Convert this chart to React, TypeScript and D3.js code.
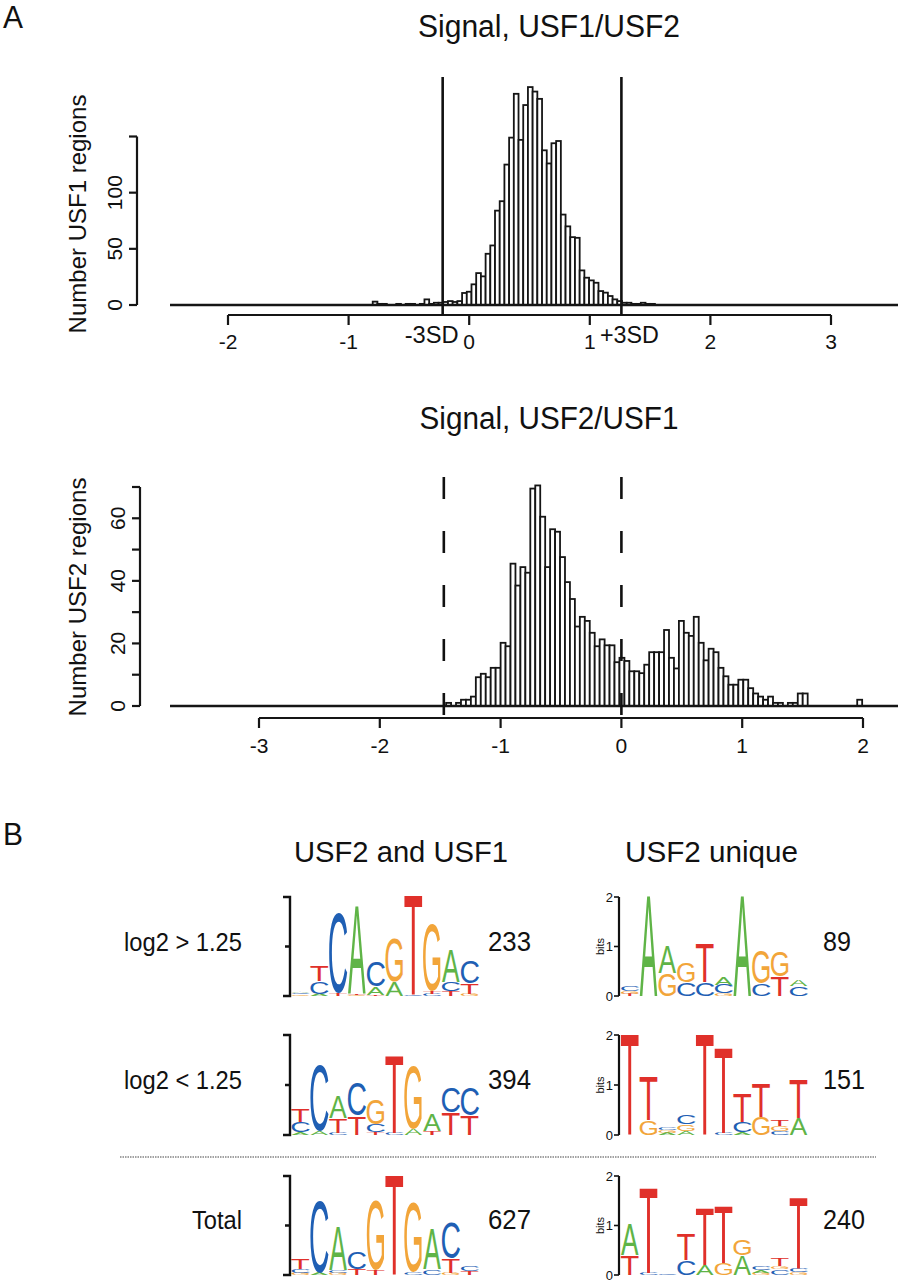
import React, { useEffect, useRef } from 'react';
import * as d3 from 'd3';

// Histogram of USF1/USF2 signal ratios
const usf1BinStart = -0.839;
const usf1BinWidth = 0.039;
const usf1Counts = [
  0, 3, 1, 1, 0, 0, 1, 0, 1, 1, 0, 1, 5, 1, 2, 2,
  2.7, 3.5, 2.7, 3.5, 10.7, 11.8,
  18.4, 28.4, 25.5, 45.6, 53, 84, 92.4, 125, 149,
  188, 147, 178, 194, 190, 183.5,
  137.7, 126, 144, 146, 80.5, 70, 60.4, 59.8, 30.8, 24.3, 21.9, 19.8, 12.4, 11, 8, 5,
  3.5,
  2, 2, 1, 1, 2, 1, 1,
];
const usf1XTicks = [-2, -1, 0, 1, 2, 3];
const usf1YTicks = [0, 50, 100, 150];
const usf1YLabels = [0, 50, 100];
const usf1Cutoffs = [-0.22, 1.262];
const usf1CutoffLabels = ['-3SD', '+3SD'];

// Histogram of USF2/USF1 signal ratios
const usf2BinStart = -1.451;
const usf2BinWidth = 0.041;
const usf2Counts = [
  1, 0, 1, 2, 2, 3,
  9.2, 10.3, 9.2, 12.2, 12.2, 20.2, 19.1, 45.5, 38.5, 44.4, 42.6, 69.5, 70.5, 60.5,
  44.4, 56.5, 55.7, 47.6, 39.6, 34.2, 25.4, 28.5, 27.2, 23.4, 19.1, 21.3, 19.4, 19.4,
  14, 15.4, 14.4, 11.1, 11.1, 10.5, 13.2, 17.2, 17.2, 17.2, 24.3, 15.4, 12, 27.2, 23.4,
  22.4, 28.5, 20.2, 14.6, 18.3, 17.2, 12.2, 9.5, 6.8, 6.8, 8.4, 8.4, 5.7,
  4, 3, 2, 3, 1, 1, 0, 1, 1, 4, 4, 0, 0, 0, 0, 0, 0, 0, 0, 0, 0, 2,
];
const usf2XTicks = [-3, -2, -1, 0, 1, 2];
const usf2YTicks = [0, 10, 20, 30, 40, 50, 60, 70];
const usf2YLabels = [0, 20, 40, 60];
const usf2Cutoffs = [-1.47, 0];

// Motif logos: each column lists [base, bits] from bottom to top
type Column = [string, number][];

const rowLabels = ['log2 > 1.25', 'log2 < 1.25', 'Total'];
const sharedSites = [233, 394, 627];
const uniqueSites = [89, 151, 240];

const sharedHigh: Column[] = [
  [['G', 0.03], ['C', 0.03], ['A', 0.03]],
  [['A', 0.04], ['C', 0.26], ['T', 0.33]],
  [['T', 0.06], ['C', 1.7]],
  [['G', 0.03], ['T', 0.03], ['A', 1.82]],
  [['T', 0.03], ['A', 0.17], ['C', 0.53]],
  [['A', 0.28], ['G', 0.9]],
  [['C', 0.02], ['T', 2.06]],
  [['C', 0.05], ['T', 0.04], ['G', 1.4]],
  [['T', 0.1], ['C', 0.18], ['A', 0.67]],
  [['G', 0.04], ['T', 0.22], ['C', 0.47]],
];
const sharedLow: Column[] = [
  [['A', 0.05], ['C', 0.22], ['T', 0.25]],
  [['A', 0.08], ['C', 1.37]],
  [['C', 0.05], ['T', 0.3], ['A', 0.45]],
  [['T', 0.38], ['C', 0.69]],
  [['T', 0.05], ['C', 0.17], ['G', 0.51]],
  [['C', 0.05], ['T', 1.6]],
  [['A', 0.12], ['G', 1.33]],
  [['T', 0.08], ['A', 0.35]],
  [['T', 0.45], ['C', 0.52]],
  [['T', 0.4], ['C', 0.57]],
];
const sharedAll: Column[] = [
  [['G', 0.04], ['C', 0.08], ['T', 0.2]],
  [['A', 0.04], ['C', 1.52]],
  [['G', 0.04], ['C', 0.06], ['A', 0.9]],
  [['T', 0.12], ['C', 0.35]],
  [['T', 0.1], ['G', 1.46]],
  [['T', 2.08]],
  [['C', 0.06], ['G', 1.46]],
  [['C', 0.12], ['A', 0.83]],
  [['G', 0.04], ['T', 0.3], ['C', 0.74]],
  [['T', 0.08], ['C', 0.12]],
];
const uniqueHigh: Column[] = [
  [['T', 0.04], ['G', 0.06], ['C', 0.12]],
  [['A', 2.08]],
  [['G', 0.47], ['A', 0.55]],
  [['C', 0.28], ['G', 0.41]],
  [['C', 0.28], ['T', 0.79]],
  [['G', 0.05], ['C', 0.18], ['A', 0.16]],
  [['A', 2.08]],
  [['C', 0.25], ['G', 0.68]],
  [['T', 0.4], ['G', 0.53]],
  [['C', 0.2], ['A', 0.12]],
];
const uniqueLow: Column[] = [
  [['T', 2.08]],
  [['G', 0.3], ['T', 0.9]],
  [['A', 0.04], ['G', 0.05], ['C', 0.04]],
  [['A', 0.07], ['G', 0.14], ['C', 0.18]],
  [['T', 2.08]],
  [['C', 0.04], ['T', 1.74]],
  [['A', 0.05], ['C', 0.22], ['T', 0.57]],
  [['G', 0.37], ['T', 0.7]],
  [['C', 0.08], ['G', 0.1], ['T', 0.12]],
  [['A', 0.35], ['T', 0.79]],
];
const uniqueAll: Column[] = [
  [['T', 0.4], ['A', 0.64]],
  [['C', 0.05], ['T', 1.77]],
  [['C', 0.02]],
  [['C', 0.3], ['T', 0.53]],
  [['A', 0.2], ['T', 1.18]],
  [['G', 0.25], ['T', 1.17]],
  [['A', 0.4], ['G', 0.33]],
  [['G', 0.04], ['A', 0.05], ['C', 0.08]],
  [['C', 0.12], ['G', 0.06], ['T', 0.17]],
  [['G', 0.05], ['C', 0.07], ['T', 1.48]],
];

const baseColor: Record<string, string> = {
  A: '#5fb447',
  C: '#1f5fb4',
  G: '#f2a53a',
  T: '#e0302a',
};

// ink bounds of each glyph in em units: [xMin, xMax, yMin, yMax]
const glyphBox: Record<string, number[]> = {
  A: [0, 0.668, 0, 0.716],
  C: [0.049, 0.669, -0.012, 0.728],
  G: [0.053, 0.722, -0.012, 0.728],
  T: [0.024, 0.588, 0, 0.716],
};

const font = "'Liberation Sans', Arial, Helvetica, sans-serif";

const App = () => {
  const ref = useRef<SVGSVGElement>(null);

  useEffect(() => {
    document.body.style.margin = '0';
    const svg = d3.select(ref.current);
    svg.selectAll('*').remove();

    const label = (x: number, y: number, text: string, size: number, anchor = 'start', length?: number) => {
      const t = svg
        .append('text')
        .attr('x', x)
        .attr('y', y)
        .attr('font-family', font)
        .attr('font-size', size)
        .attr('text-anchor', anchor)
        .attr('fill', '#111')
        .text(text);
      if (length) t.attr('textLength', length).attr('lengthAdjust', 'spacingAndGlyphs');
      return t;
    };

    const rotated = (x: number, y: number, text: string, size: number) =>
      svg
        .append('text')
        .attr('transform', `translate(${x},${y}) rotate(-90)`)
        .attr('font-family', font)
        .attr('font-size', size)
        .attr('text-anchor', 'middle')
        .attr('fill', '#111')
        .text(text);

    // draws one histogram panel
    const histogram = (o: {
      counts: number[];
      start: number;
      width: number;
      xDomain: [number, number];
      xRange: [number, number];
      yDomain: [number, number];
      yRange: [number, number];
      xTicks: number[];
      yTicks: number[];
      yLabels: number[];
      axisX: number;
      axisY: number;
      xLabelY: number;
      title: string;
      titleY: number;
      titleLen: number;
      yTitle: string;
      yTitleCenter: number;
      cutoffs: number[];
      cutoffTop: number;
      dashed: boolean;
    }) => {
      const x = d3.scaleLinear().domain(o.xDomain).range(o.xRange);
      const y = d3.scaleLinear().domain(o.yDomain).range(o.yRange);
      const g = svg.append('g');

      label(549, o.titleY, o.title, 31, 'middle', o.titleLen);

      g.selectAll('rect.bar')
        .data(o.counts.map((c, i) => ({ x0: o.start + i * o.width, c })).filter((d) => d.c > 0))
        .join('rect')
        .attr('class', 'bar')
        .attr('x', (d) => x(d.x0))
        .attr('width', x(o.width) - x(0))
        .attr('y', (d) => y(d.c))
        .attr('height', (d) => y(0) - y(d.c))
        .attr('fill', '#fff')
        .attr('stroke', '#151515')
        .attr('stroke-width', 1.8);

      // zero line across the plot region
      g.append('line')
        .attr('x1', 170)
        .attr('x2', 898)
        .attr('y1', y(0))
        .attr('y2', y(0))
        .attr('stroke', '#151515')
        .attr('stroke-width', 2.4);

      // x axis
      g.append('line')
        .attr('x1', x(o.xTicks[0]))
        .attr('x2', x(o.xTicks[o.xTicks.length - 1]))
        .attr('y1', o.axisY)
        .attr('y2', o.axisY)
        .attr('stroke', '#151515')
        .attr('stroke-width', 2.2);
      o.xTicks.forEach((t) => {
        g.append('line')
          .attr('x1', x(t))
          .attr('x2', x(t))
          .attr('y1', o.axisY)
          .attr('y2', o.axisY + 10)
          .attr('stroke', '#151515')
          .attr('stroke-width', 2.2);
        label(x(t), o.xLabelY, String(t), 21, 'middle');
      });

      // y axis
      g.append('line')
        .attr('x1', o.axisX)
        .attr('x2', o.axisX)
        .attr('y1', y(o.yTicks[0]))
        .attr('y2', y(o.yTicks[o.yTicks.length - 1]))
        .attr('stroke', '#151515')
        .attr('stroke-width', 2.2);
      o.yTicks.forEach((t) => {
        g.append('line')
          .attr('x1', o.axisX - 8)
          .attr('x2', o.axisX)
          .attr('y1', y(t))
          .attr('y2', y(t))
          .attr('stroke', '#151515')
          .attr('stroke-width', 2.2);
      });
      o.yLabels.forEach((t) => rotated(o.axisX - 15, y(t), String(t), 21));
      rotated(86, o.yTitleCenter, o.yTitle, 24);

      o.cutoffs.forEach((c) => {
        g.append('line')
          .attr('x1', x(c))
          .attr('x2', x(c))
          .attr('y1', o.cutoffTop)
          .attr('y2', o.axisY)
          .attr('stroke', '#111')
          .attr('stroke-width', 2.6)
          .attr('stroke-dasharray', o.dashed ? '22 32' : null);
      });
      return x;
    };

    const xTop = histogram({
      counts: usf1Counts,
      start: usf1BinStart,
      width: usf1BinWidth,
      xDomain: [-2, 3],
      xRange: [228, 831],
      yDomain: [0, 150],
      yRange: [305, 136.5],
      xTicks: usf1XTicks,
      yTicks: usf1YTicks,
      yLabels: usf1YLabels,
      axisX: 137,
      axisY: 315,
      xLabelY: 349,
      title: 'Signal, USF1/USF2',
      titleY: 37,
      titleLen: 262,
      yTitle: 'Number USF1 regions',
      yTitleCenter: 214,
      cutoffs: usf1Cutoffs,
      cutoffTop: 77,
      dashed: false,
    });
    usf1Cutoffs.forEach((c, i) => {
      label(xTop(c) + (i === 0 ? -11 : 8), 343, usf1CutoffLabels[i], 24, 'middle', i === 0 ? 54 : 59);
    });

    histogram({
      counts: usf2Counts,
      start: usf2BinStart,
      width: usf2BinWidth,
      xDomain: [-3, 2],
      xRange: [259, 863],
      yDomain: [0, 70],
      yRange: [706, 487],
      xTicks: usf2XTicks,
      yTicks: usf2YTicks,
      yLabels: usf2YLabels,
      axisX: 140,
      axisY: 718,
      xLabelY: 753,
      title: 'Signal, USF2/USF1',
      titleY: 429,
      titleLen: 259,
      yTitle: 'Number USF2 regions',
      yTitleCenter: 597,
      cutoffs: usf2Cutoffs,
      cutoffTop: 477,
      dashed: true,
    });

    // panel letters
    label(3, 28, 'A', 31, 'start', 20);
    label(3, 845, 'B', 31, 'start', 20);

    // motif panel
    label(294, 862, 'USF2 and USF1', 30, 'start', 214);
    label(625, 862, 'USF2 unique', 30, 'start', 173);

    const rows = [
      { zero: 996, two: 897, labelY: 951 },
      { zero: 1135, two: 1035, labelY: 1089 },
      { zero: 1275, two: 1176, labelY: 1229 },
    ];
    const shared = [sharedHigh, sharedLow, sharedAll];
    const unique = [uniqueHigh, uniqueLow, uniqueAll];

    const logo = (cols: Column[], x0: number, colW: number, zero: number, two: number) => {
      const y = d3.scaleLinear().domain([0, 2]).range([zero, two]);
      const g = svg.append('g');
      cols.forEach((col, i) => {
        let acc = 0;
        col.forEach(([base, bits]) => {
          const bottom = y(acc);
          const top = y(acc + bits);
          acc += bits;
          const h = bottom - top;
          if (h < 0.3) return;
          const [gx0, gx1, gy0, gy1] = glyphBox[base];
          const w = colW - 1.2;
          const sx = w / ((gx1 - gx0) * 100);
          const sy = h / ((gy1 - gy0) * 100);
          const tx = x0 + i * colW + 0.6 - gx0 * 100 * sx;
          const ty = bottom + gy0 * 100 * sy;
          g.append('text')
            .attr('transform', `translate(${tx},${ty}) scale(${sx},${sy})`)
            .attr('font-family', font)
            .attr('font-size', 100)
            .attr('fill', baseColor[base])
            .text(base);
        });
      });
      return y;
    };

    rows.forEach((r, i) => {
      label(242, r.labelY, rowLabels[i], 25, 'end', i === 2 ? 50 : 118);

      // shared motif with a plain bracket axis
      const ys = logo(shared[i], 291, 18.8, r.zero, r.two);
      svg
        .append('path')
        .attr('d', `M283,${ys(2)}H290V${ys(0)}H283M285,${ys(1)}H290`)
        .attr('fill', 'none')
        .attr('stroke', '#111')
        .attr('stroke-width', 2.4);
      label(488, r.labelY, String(sharedSites[i]), 27, 'start', 43);

      // unique motif with a bits axis
      const yu = logo(unique[i], 620.5, 18.75, r.zero, r.two);
      svg
        .append('line')
        .attr('x1', 619)
        .attr('x2', 619)
        .attr('y1', yu(0))
        .attr('y2', yu(2))
        .attr('stroke', '#111')
        .attr('stroke-width', 2.2);
      [0, 1, 2].forEach((b) => {
        svg
          .append('line')
          .attr('x1', 614)
          .attr('x2', 619)
          .attr('y1', yu(b))
          .attr('y2', yu(b))
          .attr('stroke', '#111')
          .attr('stroke-width', 1.6);
        label(613, yu(b) + 4.5, String(b), 13, 'end');
      });
      rotated(604, yu(1), 'bits', 11);
      label(823, r.labelY, String(uniqueSites[i]), 27, 'start', i === 0 ? 28 : 42);
    });

    // separator between the split rows and the total row
    svg
      .append('line')
      .attr('x1', 120)
      .attr('x2', 876)
      .attr('y1', 1157)
      .attr('y2', 1157)
      .attr('stroke', '#444')
      .attr('stroke-width', 1.2)
      .attr('stroke-dasharray', '1.5 1');
  }, []);

  return <svg ref={ref} width={898} height={1280} style={{ display: 'block', background: '#fff' }} />;
};

export default App;
